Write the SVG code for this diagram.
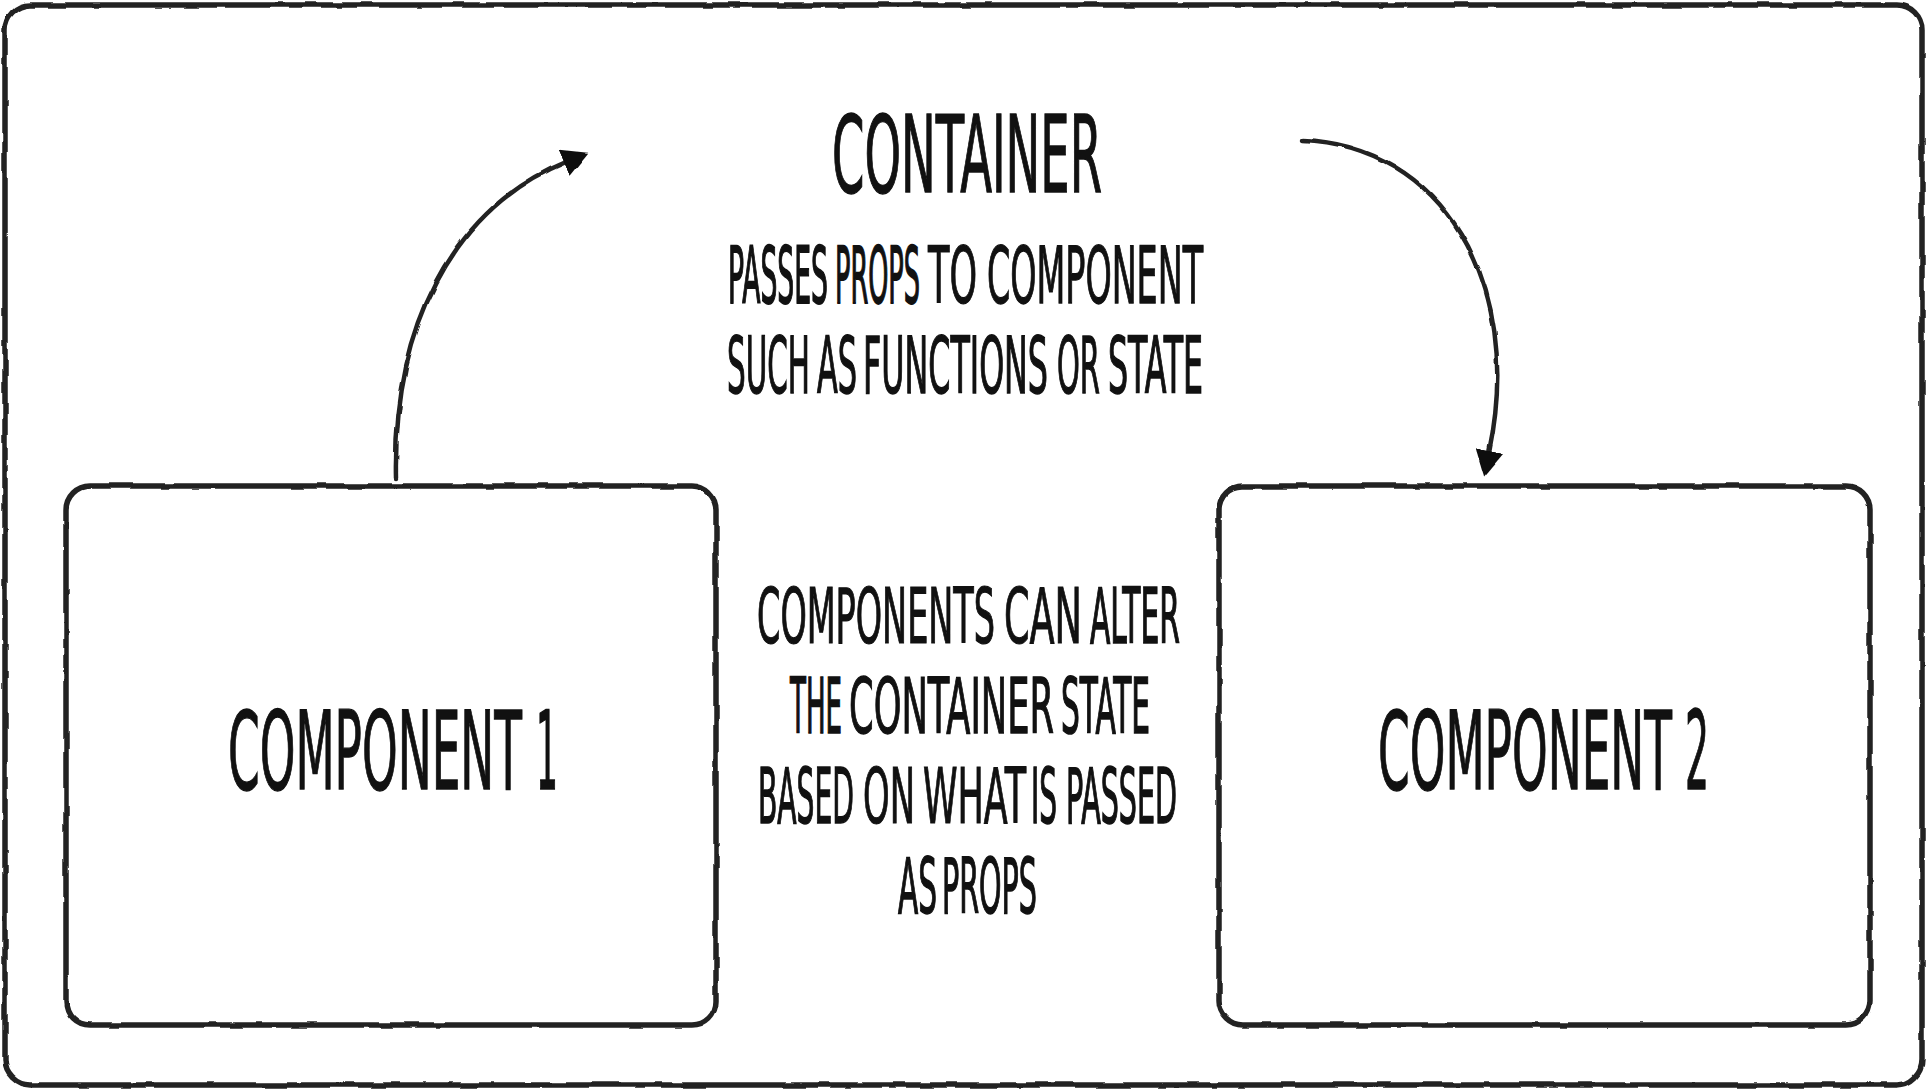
<svg xmlns="http://www.w3.org/2000/svg" width="1929" height="1090" viewBox="0 0 1929 1090">
  <style>
    .box { fill: #ffffff; stroke: #222222; stroke-width: 5.5; }
    .frame { fill: #ffffff; stroke: #222222; stroke-width: 5.5; }
    .conn { fill: none; stroke: #222222; stroke-width: 4.5; stroke-linecap: round; }
    .w { font-family: "Liberation Sans Narrow", "DejaVu Sans Condensed", "Liberation Sans", sans-serif; fill: #111111; stroke: #111111; stroke-width: 0.7; text-anchor: start; text-transform: uppercase; }
  </style>
  <defs>
    <marker id="arrow" markerUnits="userSpaceOnUse" markerWidth="28" markerHeight="28" viewBox="0 0 28 28" refX="2" refY="14" orient="auto">
      <path d="M0,0 L26,14 L0,28 Z" fill="#111111"/>
    </marker>
    <filter id="rough" x="-5%" y="-5%" width="110%" height="110%">
      <feTurbulence type="fractalNoise" baseFrequency="0.04" numOctaves="2" seed="3" result="n"/>
      <feDisplacementMap in="SourceGraphic" in2="n" scale="3.5" xChannelSelector="R" yChannelSelector="G"/>
    </filter>
  </defs>
  <rect width="1929" height="1090" fill="#ffffff"/>

  <g id="container">
    <rect class="frame" x="5" y="5" width="1917" height="1080" rx="25" ry="25" filter="url(#rough)"/>
    <text class="w" font-size="54.5" transform="translate(832,192) scale(1,1.95)" textLength="270" lengthAdjust="spacingAndGlyphs">Container</text>
    <text class="w" font-size="30.3" transform="translate(728,303) scale(1,2.57)" textLength="100" lengthAdjust="spacingAndGlyphs">Passes</text>
    <text class="w" font-size="30.9" transform="translate(835,303) scale(1,2.52)" textLength="85" lengthAdjust="spacingAndGlyphs">props</text>
    <text class="w" font-size="44.5" transform="translate(928,303) scale(1,1.75)" textLength="49" lengthAdjust="spacingAndGlyphs">to</text>
    <text class="w" font-size="43.6" transform="translate(987,303) scale(1,1.79)" textLength="216" lengthAdjust="spacingAndGlyphs">component</text>
    <text class="w" font-size="37.7" transform="translate(727,393) scale(1,2.07)" textLength="83" lengthAdjust="spacingAndGlyphs">such</text>
    <text class="w" font-size="36.4" transform="translate(817,393) scale(1,2.14)" textLength="40" lengthAdjust="spacingAndGlyphs">as</text>
    <text class="w" font-size="37.4" transform="translate(863,393) scale(1,2.09)" textLength="185" lengthAdjust="spacingAndGlyphs">functions</text>
    <text class="w" font-size="39.1" transform="translate(1057,393) scale(1,2)" textLength="43" lengthAdjust="spacingAndGlyphs">or</text>
    <text class="w" font-size="34.5" transform="translate(1108,393) scale(1,2.26)" textLength="95" lengthAdjust="spacingAndGlyphs">state</text>
  </g>

  <g id="component1">
    <rect class="box" x="66" y="486" width="650" height="539" rx="24" ry="24" filter="url(#rough)"/>
    <text class="w" font-size="59.4" transform="translate(228,789) scale(1,1.82)" textLength="294" lengthAdjust="spacingAndGlyphs">Component</text>
    <text class="w" font-size="56" transform="translate(536,789) scale(1,1.93)" textLength="22" lengthAdjust="spacingAndGlyphs">1</text>
  </g>

  <g id="component2">
    <rect class="box" x="1219" y="486" width="651" height="539" rx="24" ry="24" filter="url(#rough)"/>
    <text class="w" font-size="59.4" transform="translate(1378,789) scale(1,1.82)" textLength="294" lengthAdjust="spacingAndGlyphs">Component</text>
    <text class="w" font-size="56" transform="translate(1685,789) scale(1,1.93)" textLength="24" lengthAdjust="spacingAndGlyphs">2</text>
  </g>

  <g id="note">
    <text class="w" font-size="43.6" transform="translate(757,643) scale(1,1.74)" textLength="238" lengthAdjust="spacingAndGlyphs">Components</text>
    <text class="w" font-size="48.5" transform="translate(1004,643) scale(1,1.57)" textLength="78" lengthAdjust="spacingAndGlyphs">Can</text>
    <text class="w" font-size="33.5" transform="translate(1090,643) scale(1,2.27)" textLength="90" lengthAdjust="spacingAndGlyphs">Alter</text>
    <text class="w" font-size="32.1" transform="translate(790,733) scale(1,2.37)" textLength="52" lengthAdjust="spacingAndGlyphs">The</text>
    <text class="w" font-size="41.8" transform="translate(849,733) scale(1,1.82)" textLength="205" lengthAdjust="spacingAndGlyphs">Container</text>
    <text class="w" font-size="32.7" transform="translate(1061,733) scale(1,2.32)" textLength="89" lengthAdjust="spacingAndGlyphs">State</text>
    <text class="w" font-size="35.3" transform="translate(758,823) scale(1,2.15)" textLength="96" lengthAdjust="spacingAndGlyphs">Based</text>
    <text class="w" font-size="48.2" transform="translate(863,823) scale(1,1.58)" textLength="52" lengthAdjust="spacingAndGlyphs">On</text>
    <text class="w" font-size="47.7" transform="translate(923,823) scale(1,1.59)" textLength="103" lengthAdjust="spacingAndGlyphs">What</text>
    <text class="w" font-size="34" transform="translate(1031,823) scale(1,2.24)" textLength="26" lengthAdjust="spacingAndGlyphs">is</text>
    <text class="w" font-size="33.9" transform="translate(1066,823) scale(1,2.24)" textLength="111" lengthAdjust="spacingAndGlyphs">Passed</text>
    <text class="w" font-size="35.5" transform="translate(898,913) scale(1,2.14)" textLength="39" lengthAdjust="spacingAndGlyphs">as</text>
    <text class="w" font-size="34.5" transform="translate(942,913) scale(1,2.2)" textLength="95" lengthAdjust="spacingAndGlyphs">Props</text>
  </g>

  <g id="connectors" filter="url(#rough)">
    <path class="conn" d="M396,478 C393,330 450,210 566,162" marker-end="url(#arrow)"/>
    <path class="conn" d="M1302,140 C1440,145 1525,280 1489,453" marker-end="url(#arrow)"/>
  </g>
</svg>
